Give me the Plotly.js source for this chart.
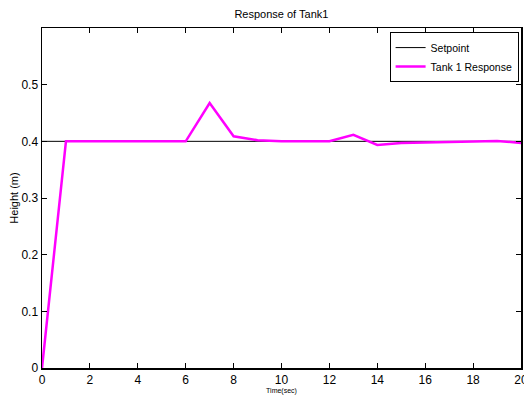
<!DOCTYPE html>
<html><head><meta charset="utf-8">
<script src="https://cdn.plot.ly/plotly-3.0.1.min.js"></script>
<style>html,body{margin:0;padding:0;background:#fff}</style>
</head><body><div id="g" style="width:524px;height:396px"></div>
<script>
const time = [0,1,2,3,4,5,6,7,8,9,10,11,12,13,14,15,16,17,18,19,20];
const setpoint = [0.4,0.4,0.4,0.4,0.4,0.4,0.4,0.4,0.4,0.4,0.4,0.4,0.4,0.4,0.4,0.4,0.4,0.4,0.4,0.4,0.4];
const tank1 = [0,0.4,0.4,0.4,0.4,0.4,0.4,0.4675,0.409,0.402,0.4,0.4,0.4,0.4115,0.3935,0.397,0.398,0.3995,0.4,0.4008,0.397];
const xTicks = [0,2,4,6,8,10,12,14,16,18,20];
const yTicks = [0,0.1,0.2,0.3,0.4,0.5];
const F = "'Liberation Sans Narrow', 'Liberation Sans', Arial, sans-serif";
const data = [
  {x:[time[0], time[time.length-1]], y:[setpoint[0], setpoint[setpoint.length-1]], mode:'lines', name:'Setpoint', line:{color:'#000', width:1}},
  {x:time, y:tank1, mode:'lines', name:'Tank 1 Response', line:{color:'#ff00ff', width:2.5}}
];
const axisCommon = {automargin:false, ticklabeloverflow:'allow', showgrid:false, zeroline:false, showline:true, linecolor:'#000', linewidth:1.5, mirror:'ticks', ticks:'inside', ticklen:5, tickcolor:'#000', tickfont:{family:F, size:12, color:'#000'}};
const layout = {
  width:524, height:396, margin:{l:42, r:3, t:28, b:28},
  paper_bgcolor:'#fff', plot_bgcolor:'#fff',
  title:{text:'Response of Tank1', font:{family:F, size:11, color:'#000'}, x:0.537, xanchor:'center', y:0.965, yanchor:'middle'},
  xaxis:Object.assign({}, axisCommon, {range:[0,20], tickvals:xTicks, ticktext:xTicks.map(String), title:{text:'Time(sec)', font:{family:F, size:7, color:'#000'}, standoff:2}}),
  yaxis:Object.assign({}, axisCommon, {range:[0,0.6], tickvals:yTicks, ticktext:yTicks.map(String), title:{text:'Height (m)', font:{family:'Liberation Sans, Arial, sans-serif', size:11, color:'#000'}, standoff:0}}),
  showlegend:true,
  legend:{x:0.995, y:0.988, xanchor:'right', yanchor:'top', bgcolor:'#fff', bordercolor:'#000', borderwidth:1, font:{family:F, size:10.5, color:'#000'}, tracegroupgap:0, itemwidth:30}
};
Plotly.newPlot('g', data, layout, {displayModeBar:false, staticPlot:true});
</script></body></html>
